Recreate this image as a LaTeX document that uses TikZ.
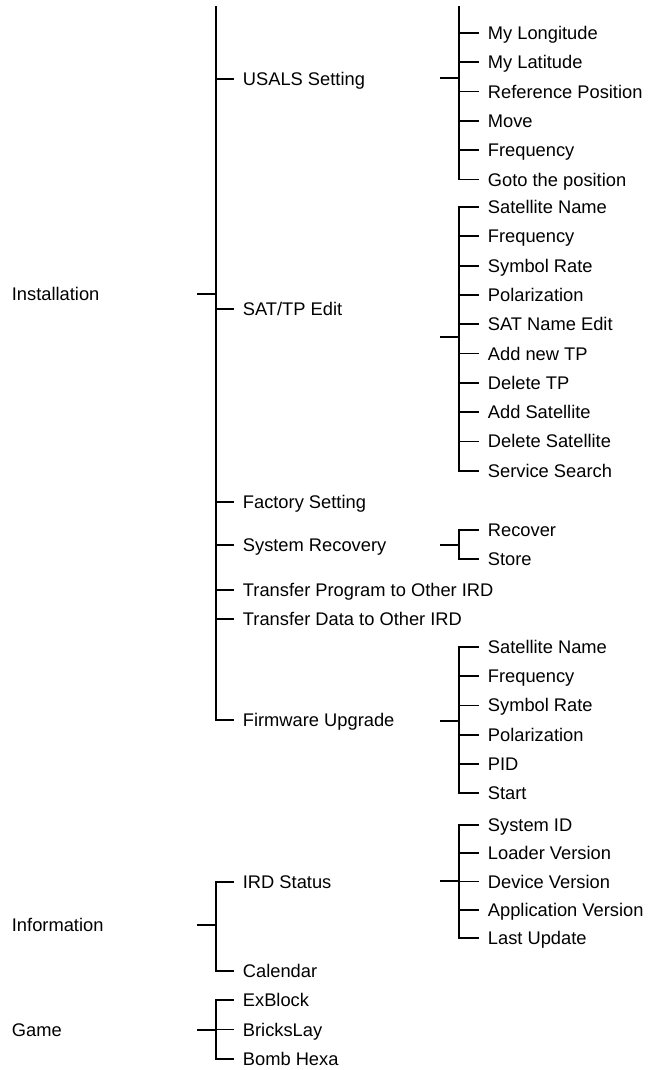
\documentclass[tikz,border=0pt]{standalone}
\usepackage{fontspec}
\setmainfont{Liberation Sans}
\tikzset{
  menu/.style={anchor=west,inner sep=0pt,text height=13pt,text depth=0pt,font=\fontsize{18.3}{22}\selectfont},
  twig/.style={shorten >=8.5pt}
}
\begin{document}
\begin{tikzpicture}[x=1pt,y=-1pt,line width=1.8pt,line cap=rect]
\useasboundingbox (0,0) rectangle (648,1070);
% top level menus
\node[menu] (inst) at (11,294) {Installation};
\node[menu] (info) at (11,925) {Information};
\node[menu] (game) at (11,1030) {Game};
% Installation branch
\coordinate (instbus) at (216,294);
\draw (instbus) -- ++(-18,0);
\foreach \n/\y/\t in {usals/79/USALS Setting,sattp/309/{SAT/TP Edit},factory/502/Factory Setting,sysrec/545/System Recovery,xfprog/590/Transfer Program to Other IRD,xfdata/619/Transfer Data to Other IRD,fwup/720/Firmware Upgrade} {
  \node[menu] (\n) at (242,\y) {\t};
  \draw[twig] (instbus |- \n.west) -- (\n.west);
}
\draw (instbus |- 0,7) -- (instbus |- fwup.west);
% USALS Setting
\coordinate (uslbus) at (459,78);
\draw (uslbus) -- ++(-18,0);
\foreach \i/\t in {0/My Longitude,1/My Latitude,2/Reference Position,3/Move,4/Frequency,5/Goto the position} {
  \pgfmathsetmacro{\y}{33+\i*29.3}
  \node[menu] (usl\i) at (487,\y) {\t};
  \draw[twig] (uslbus |- usl\i.west) -- (usl\i.west);
}
\draw (uslbus |- 0,7) -- (uslbus |- usl5.west);
% SAT/TP Edit
\coordinate (satbus) at (459,337);
\draw (satbus) -- ++(-18,0);
\foreach \i/\t in {0/Satellite Name,1/Frequency,2/Symbol Rate,3/Polarization,4/SAT Name Edit,5/Add new TP,6/Delete TP,7/Add Satellite,8/Delete Satellite,9/Service Search} {
  \pgfmathsetmacro{\y}{207+\i*29.3}
  \node[menu] (sat\i) at (487,\y) {\t};
  \draw[twig] (satbus |- sat\i.west) -- (sat\i.west);
}
\draw (satbus |- sat0.west) -- (satbus |- sat9.west);
% System Recovery
\coordinate (recbus) at (459,545);
\draw (recbus) -- ++(-18,0);
\foreach \i/\y/\t in {0/530/Recover,1/559/Store} {
  \node[menu] (rec\i) at (487,\y) {\t};
  \draw[twig] (recbus |- rec\i.west) -- (rec\i.west);
}
\draw (recbus |- rec0.west) -- (recbus |- rec1.west);
% Firmware Upgrade
\coordinate (fwbus) at (459,721);
\draw (fwbus) -- ++(-18,0);
\foreach \i/\t in {0/Satellite Name,1/Frequency,2/Symbol Rate,3/Polarization,4/PID,5/Start} {
  \pgfmathsetmacro{\y}{647+\i*29.2}
  \node[menu] (fw\i) at (487,\y) {\t};
  \draw[twig] (fwbus |- fw\i.west) -- (fw\i.west);
}
\draw (fwbus |- fw0.west) -- (fwbus |- fw5.west);
% Information branch
\coordinate (infobus) at (216,925);
\draw (infobus) -- ++(-18,0);
\node[menu] (irdst) at (242,882) {IRD Status};
\node[menu] (calendar) at (242,971) {Calendar};
\foreach \n in {irdst,calendar}
  \draw[twig] (infobus |- \n.west) -- (\n.west);
\draw (infobus |- irdst.west) -- (infobus |- calendar.west);
% IRD Status
\coordinate (irdbus) at (459,881);
\draw (irdbus) -- ++(-18,0);
\foreach \i/\t in {0/System ID,1/Loader Version,2/Device Version,3/Application Version,4/Last Update} {
  \pgfmathsetmacro{\y}{825+\i*28.25}
  \node[menu] (ird\i) at (487,\y) {\t};
  \draw[twig] (irdbus |- ird\i.west) -- (ird\i.west);
}
\draw (irdbus |- ird0.west) -- (irdbus |- ird4.west);
% Game branch
\coordinate (gamebus) at (216,1030);
\draw (gamebus) -- ++(-18,0);
\foreach \i/\t in {0/ExBlock,1/BricksLay,2/Bomb Hexa} {
  \pgfmathsetmacro{\y}{1000+\i*29.5}
  \node[menu] (gm\i) at (242,\y) {\t};
  \draw[twig] (gamebus |- gm\i.west) -- (gm\i.west);
}
\draw (gamebus |- gm0.west) -- (gamebus |- gm2.west);
\end{tikzpicture}
\end{document}
